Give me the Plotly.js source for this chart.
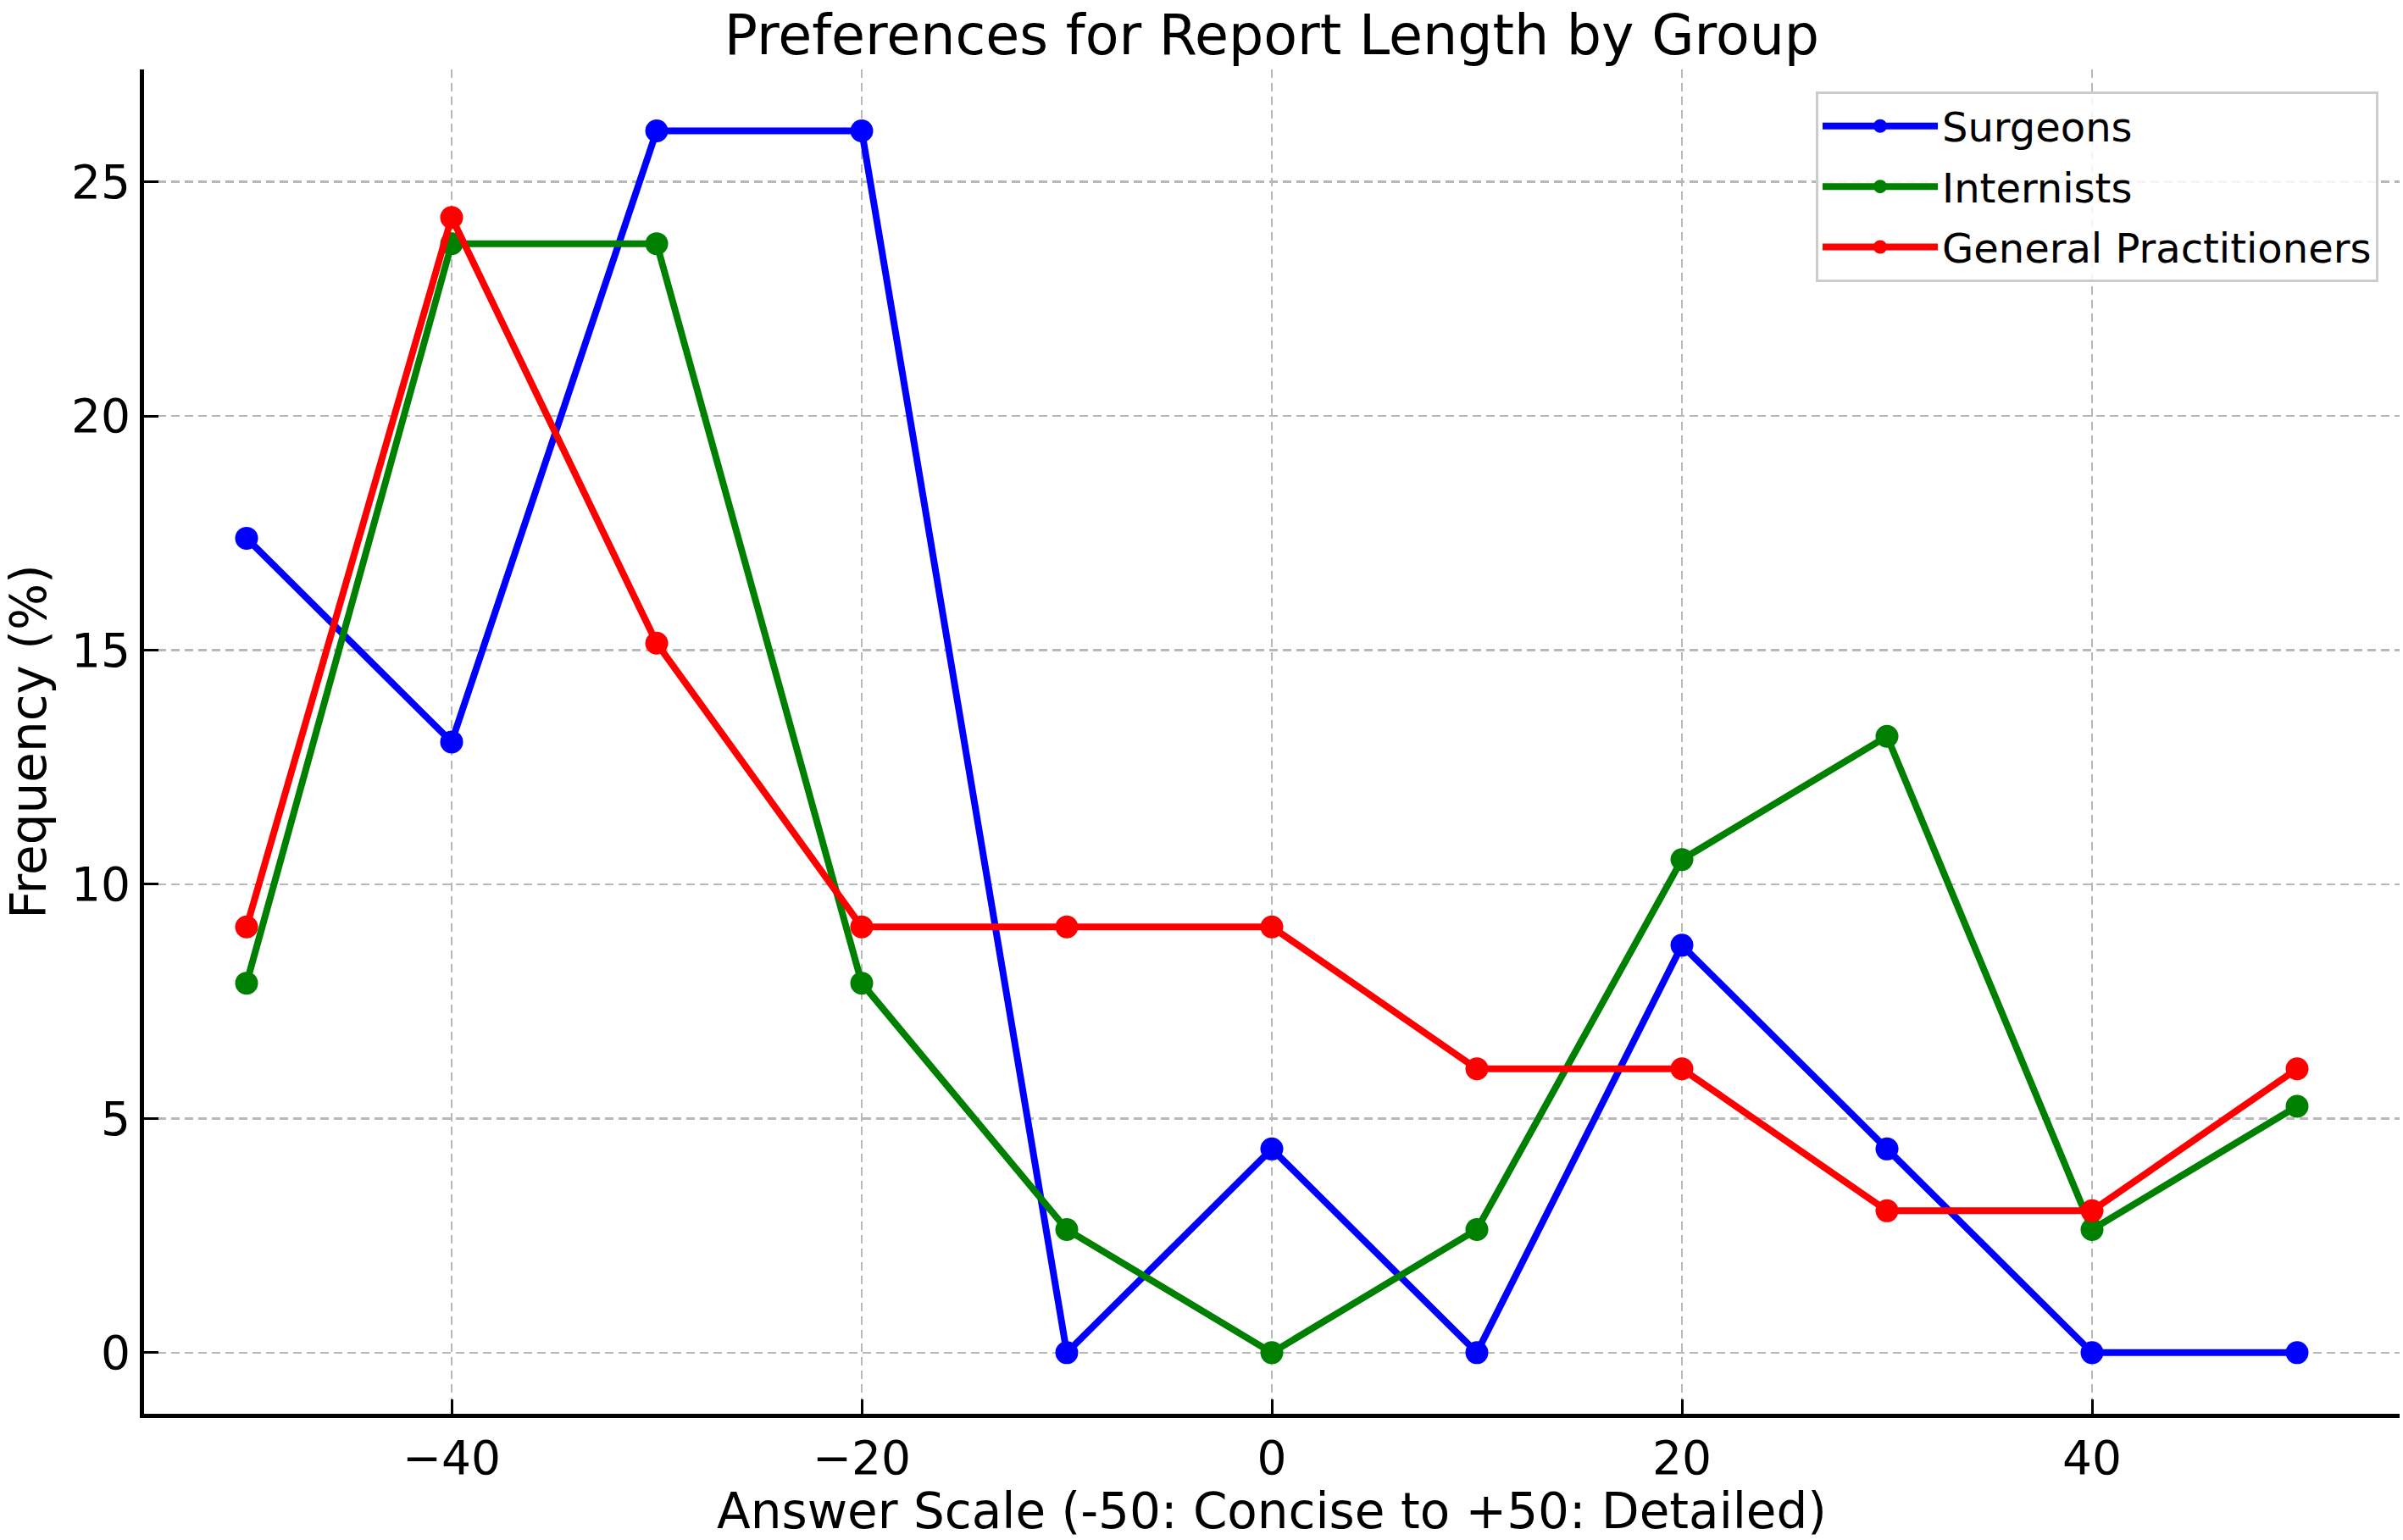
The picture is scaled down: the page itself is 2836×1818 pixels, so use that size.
<!DOCTYPE html>
<html>
<head>
<meta charset="utf-8">
<script src="https://cdn.plot.ly/plotly-3.0.1.min.js"></script>
<style>html,body{margin:0;padding:0;background:#fff;}#chart{width:2836px;height:1818px;}</style>
</head>
<body>
<div id="chart"></div>
<script>
const answerScale = [-50, -40, -30, -20, -10, 0, 10, 20, 30, 40, 50];
const surgeons = [17.39, 13.04, 26.09, 26.09, 0, 4.35, 0, 8.70, 4.35, 0, 0];
const internists = [7.89, 23.68, 23.68, 7.89, 2.63, 0, 2.63, 10.53, 13.16, 2.63, 5.26];
const generalPractitioners = [9.09, 24.24, 15.15, 9.09, 9.09, 9.09, 6.06, 6.06, 3.03, 3.03, 6.06];
const seriesNames = ["Surgeons", "Internists", "General Practitioners"];
const xTicks = [-40, -20, 0, 20, 40];
const yTicks = [0, 5, 10, 15, 20, 25];

const FONT = "DejaVu Sans, Liberation Sans, sans-serif";
const colors = ["#0000ff", "#008000", "#ff0000"];
const series = [surgeons, internists, generalPractitioners];

const traces = series.map((ys, i) => ({
  type: "scatter",
  mode: "lines+markers",
  x: answerScale,
  y: ys,
  name: seriesNames[i],
  legendgroup: "g" + i,
  line: {color: colors[i], width: 8},
  marker: {color: colors[i], size: 27, symbol: "circle"},
  cliponaxis: false
}));

const axisCommon = {
  showline: true,
  linecolor: "#000",
  linewidth: 5,
  mirror: false,
  ticks: "inside",
  ticklen: 17,
  tickwidth: 3,
  tickcolor: "#000",
  showgrid: true,
  gridcolor: "#b8b8b8",
  gridwidth: 2.5,
  griddash: "10px,6px",
  zeroline: false,
  tickfont: {family: FONT, size: 55, color: "#000"}
};

const layout = {
  width: 2836,
  height: 1818,
  paper_bgcolor: "#fff",
  plot_bgcolor: "#fff",
  margin: {l: 170, r: 4, t: 82, b: 149},
  showlegend: true,
  title: {
    text: "Preferences for Report Length by Group",
    font: {family: FONT, size: 65, color: "#000"},
    x: 0.5, xref: "paper", xanchor: "center",
    y: 1, yref: "paper", yanchor: "bottom",
    pad: {b: 18}
  },
  xaxis: Object.assign({}, axisCommon, {
    range: [-55, 55],
    tickvals: xTicks,
    ticklabelstandoff: 0,
    title: {text: "Answer Scale (-50: Concise to +50: Detailed)", font: {family: FONT, size: 58, color: "#000"}, standoff: 16}
  }),
  yaxis: Object.assign({}, axisCommon, {
    range: [-1.305, 27.4],
    tickvals: yTicks,
    ticklabelstandoff: 0,
    title: {text: "Frequency (%)", font: {family: FONT, size: 58, color: "#000"}, standoff: 26}
  }),
  legend: {
    x: 0.9906, xanchor: "right",
    y: 0.9836, yanchor: "top",
    bgcolor: "rgba(255,255,255,0.85)",
    bordercolor: "#cccccc",
    borderwidth: 3,
    font: {family: FONT, size: 48, color: "#000"},
    itemwidth: 136,
    traceorder: "grouped",
    tracegroupgap: 6
  }
};

Plotly.newPlot("chart", traces, layout, {staticPlot: true, displayModeBar: false});
</script>
</body>
</html>
